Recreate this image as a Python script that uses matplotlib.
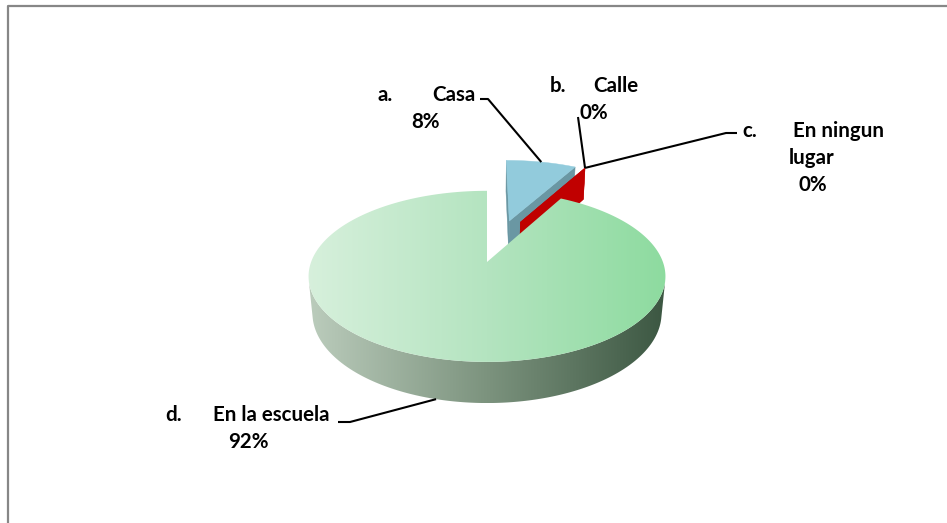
import numpy as np
import matplotlib
matplotlib.use("Agg")
import matplotlib.pyplot as plt
from matplotlib.patches import Polygon
from matplotlib.colors import LinearSegmentedColormap

# data
letters = ["a.", "b.", "c.", "d."]
names = ["Casa", "Calle", "En ningun\nlugar", "En la escuela"]
percents = [8, 0, 0, 92]

# pulled-out slices: distance and direction (None = middle of the slice)
explode = [0.555, 0.56, 0.56, 0.0]
explode_dir = [None, 21.6, 21.6, None]

top_colors = ["#92cbdc", "#c00000", "#c00000", None]
wall_colors = ["#6a97a3", "#c00000", "#c00000", None]
green_top = LinearSegmentedColormap.from_list("gt", ["#d7f0dc", "#b4e4c0", "#8ddb9f"])
green_side = LinearSegmentedColormap.from_list("gs", ["#bccdbd", "#7c937e", "#3b5641"])

# label layout (pixels)
lab_letter_x = [378, 550, 742, 165]
lab_name_x = [432, 593, 793, 213]
lab_y = [101, 92, 137, 421]
lab_pct_x = [426, 594, 813, 248]
line_gap = 27
leader_start = [[(480, 99), (488, 99)], [(578, 117)], [(737, 133), (726, 133)], [(338, 422), (350, 422)]]

# camera for the 3d look
el = np.radians(28.2)
c, s = np.cos(el), np.sin(el)
D, F, h = 5.253, 924.0, 0.2407
cx, cy = 487, 262
cam = np.array([0.0, -D * c, D * s])


def proj(X, Y, Z):
    X, Y, Z = np.broadcast_arrays(np.asarray(X, float), np.asarray(Y, float), np.asarray(Z, float))
    vy = Y + D * c
    vz = Z - D * s
    yc = vy * s + vz * c
    zc = vy * c - vz * s
    return np.column_stack([cx + F * X / zc, cy - F * yc / zc])


def facing(p, n):
    return np.dot(cam[:2] - p[:2], n) > 0


fig = plt.figure(figsize=(9.47, 5.23), dpi=100)
ax = fig.add_axes([0, 0, 1, 1])


def grad_fill(pts, cmap, z, x0=306, x1=668):
    poly = Polygon(pts, closed=True, fc="none", ec="none", zorder=z)
    ax.add_patch(poly)
    g = np.linspace(0, 1, 256).reshape(1, -1)
    y0, y1 = pts[:, 1].min(), pts[:, 1].max()
    im = ax.imshow(g, cmap=cmap, extent=(x0, x1, y1, y0), aspect="auto",
                   zorder=z, interpolation="bilinear")
    im.set_clip_path(poly)


def wall(off, t, col, z):
    tr = np.radians(t)
    X = [off[0], off[0] + np.sin(tr), off[0] + np.sin(tr), off[0]]
    Y = [off[1], off[1] + np.cos(tr), off[1] + np.cos(tr), off[1]]
    Z = [0, 0, -h, -h]
    ax.add_patch(Polygon(proj(X, Y, Z), closed=True, fc=col, ec=col, lw=0.3, zorder=z))


bounds = np.concatenate([[0], np.cumsum(percents)]) * 3.6
anchors = []
for i in range(len(percents)):
    t0, t1 = bounds[i], bounds[i + 1]
    mid = np.radians((t0 + t1) / 2)
    edir = mid if explode_dir[i] is None else np.radians(explode_dir[i])
    off = explode[i] * np.array([np.sin(edir), np.cos(edir)])
    z = 2 + 2 * i
    if percents[i] == 0:
        # empty slice: only its cut face shows
        wall(off, t0, wall_colors[i], z)
        anchors.append(proj(off[0] + np.sin(mid), off[1] + np.cos(mid), 0)[0])
        continue
    t = np.radians(np.linspace(t0, t1, 400))
    rx, ry = off[0] + np.sin(t), off[1] + np.cos(t)
    # cut faces
    for ta, sign in [(t0, -1), (t1, 1)]:
        tr = np.radians(ta)
        n = sign * np.array([np.cos(tr), -np.sin(tr)])
        p = np.array([off[0] + 0.5 * np.sin(tr), off[1] + 0.5 * np.cos(tr)])
        if percents[i] < 100 and wall_colors[i] is not None and facing(p, n):
            wall(off, ta, wall_colors[i], z)
    # outer side
    vis = np.sin(t) * (cam[0] - rx) + np.cos(t) * (cam[1] - ry) > 0
    if vis.any():
        idx = np.where(vis)[0]
        top = proj(rx[idx], ry[idx], 0)
        bot = proj(rx[idx], ry[idx], -h)
        side = np.vstack([top, bot[::-1]])
        if top_colors[i] is None:
            grad_fill(side, green_side, z)
        else:
            ax.add_patch(Polygon(side, closed=True, fc=wall_colors[i], ec="none", zorder=z))
    # top face
    face = np.vstack([proj(off[0], off[1], 0), proj(rx, ry, 0)])
    if top_colors[i] is None:
        grad_fill(face, green_top, z + 1)
    else:
        ax.add_patch(Polygon(face, closed=True, fc=top_colors[i], ec=top_colors[i], lw=0.3, zorder=z + 1))
    if i == 3:
        anchors.append(proj(np.sin(mid), np.cos(mid), -h)[0])
    else:
        anchors.append(proj(off[0] + np.sin(mid), off[1] + np.cos(mid), 0)[0])

# labels and leader lines
fkw = dict(fontfamily="Lato", fontweight="bold", fontsize=14.8, color="black", va="baseline", zorder=20)
for i in range(len(percents)):
    lines = names[i].split("\n")
    ax.text(lab_letter_x[i], lab_y[i], letters[i], ha="left", **fkw)
    ax.text(lab_name_x[i], lab_y[i], lines[0], ha="left", **fkw)
    for k, extra in enumerate(lines[1:]):
        ax.text(lab_pct_x[i] - 1, lab_y[i] + line_gap * (k + 1), extra, ha="center", **fkw)
    ax.text(lab_pct_x[i], lab_y[i] + line_gap * len(lines), "%d%%" % percents[i], ha="center", **fkw)
    pts = np.array(leader_start[i] + [tuple(anchors[i])])
    ax.plot(pts[:, 0], pts[:, 1], color="black", lw=1.5, zorder=19, solid_capstyle="butt")

# chart frame
ax.plot([7.5, 7.5, 947], [523, 5.5, 5.5], color="#878787", lw=1.6, zorder=1)

ax.set_xlim(0, 947)
ax.set_ylim(523, 0)
ax.axis("off")
fig.savefig("out.png", dpi=100)
